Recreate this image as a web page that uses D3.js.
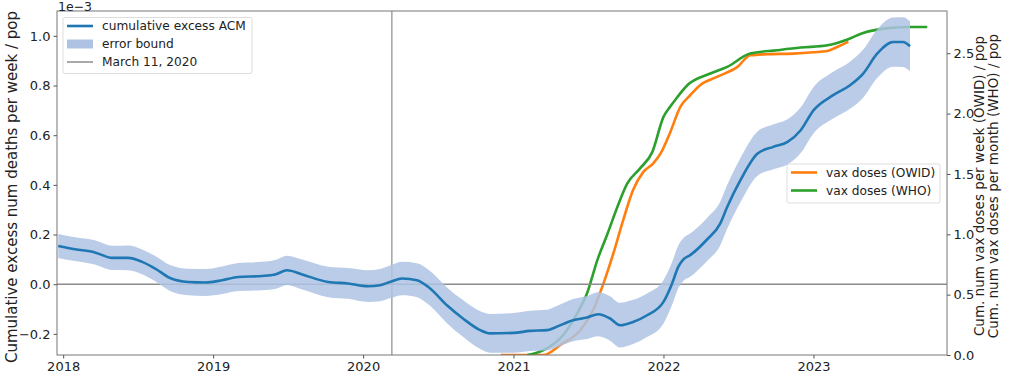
<!DOCTYPE html>
<html><head><meta charset="utf-8">
<script src="https://cdn.jsdelivr.net/npm/d3@7"></script>
<style>body{margin:0;background:#fff}svg{display:block}text{font-family:"DejaVu Sans",sans-serif}</style>
</head><body><svg id="c" width="1024" height="382"></svg>
<script>
// ---- data (left series in units of 1e-3) ----
const acmDates = ["2017-12-20","2018-01-30","2018-03-19","2018-04-30","2018-06-08","2018-07-12","2018-08-13","2018-09-18","2018-11-01","2018-12-13",
  "2019-01-23","2019-03-03","2019-04-30","2019-06-01","2019-06-30","2019-08-06","2019-10-08","2019-11-25","2020-01-13","2020-02-11",
  "2020-03-08","2020-04-05","2020-05-11","2020-06-12","2020-07-23","2020-08-31","2020-10-12","2020-11-05","2021-01-01","2021-02-10",
  "2021-03-24","2021-04-12","2021-05-26","2021-06-29","2021-07-26","2021-08-24","2021-09-17","2021-10-19","2021-11-22","2022-01-01",
  "2022-01-22","2022-02-06","2022-02-18","2022-03-07","2022-04-17","2022-05-19","2022-06-05","2022-07-07","2022-08-18","2022-09-25",
  "2022-10-30","2022-12-01","2023-01-01","2023-02-18","2023-03-31","2023-05-02","2023-06-05","2023-07-14","2023-08-07","2023-08-24"];
const acmValues = [0.154,0.141,0.128,0.106,0.106,0.090,0.063,0.025,0.009,0.007,
  0.016,0.029,0.033,0.039,0.056,0.039,0.009,0.003,-0.008,-0.004,
  0.010,0.023,0.016,-0.017,-0.085,-0.138,-0.185,-0.198,-0.196,-0.188,
  -0.185,-0.174,-0.145,-0.134,-0.121,-0.138,-0.165,-0.152,-0.125,-0.071,
  0.003,0.070,0.099,0.117,0.180,0.244,0.311,0.418,0.526,0.553,
  0.573,0.620,0.700,0.761,0.801,0.848,0.928,0.975,0.975,0.958];
const acmErr = [0.048,0.048,0.049,0.049,0.050,0.050,0.051,0.052,0.053,0.054,
  0.055,0.056,0.057,0.058,0.059,0.060,0.061,0.062,0.064,0.065,
  0.066,0.067,0.068,0.070,0.072,0.074,0.076,0.078,0.080,0.081,
  0.082,0.083,0.085,0.087,0.089,0.090,0.090,0.089,0.088,0.087,
  0.086,0.086,0.086,0.087,0.087,0.088,0.088,0.089,0.089,0.090,
  0.091,0.092,0.093,0.094,0.095,0.097,0.098,0.099,0.100,0.100];
const owidDates = ["2020-12-01","2021-03-15","2021-04-25","2021-06-13","2021-07-14","2021-08-08","2021-09-01","2021-09-25","2021-10-19","2021-11-13",
  "2021-12-07","2021-12-25","2022-01-18","2022-02-11","2022-03-07","2022-03-31","2022-05-11","2022-06-30","2022-07-31","2022-09-11",
  "2022-11-13","2023-01-01","2023-02-04","2023-02-28","2023-03-27"];
const owidValues = [0,0,0.083,0.207,0.373,0.593,0.842,1.118,1.366,1.517,
  1.587,1.670,1.850,2.056,2.152,2.235,2.304,2.387,2.483,2.492,
  2.497,2.508,2.519,2.552,2.594];
const whoDates = ["2021-02-04","2021-03-15","2021-05-02","2021-06-05","2021-06-29","2021-07-24","2021-08-18","2021-09-11","2021-10-05","2021-11-05",
  "2021-12-05","2022-01-01","2022-01-18","2022-02-04","2022-02-28","2022-04-25","2022-06-05","2022-07-31","2022-10-05","2022-12-01",
  "2023-02-04","2023-03-25","2023-05-02","2023-06-20","2023-08-18","2023-10-05"];
const whoValues = [0,0.040,0.166,0.345,0.511,0.786,1.007,1.228,1.421,1.546,
  1.683,1.973,2.060,2.138,2.235,2.332,2.387,2.497,2.525,2.547,
  2.566,2.614,2.668,2.704,2.718,2.718];
const leftTicks = [-0.2,0.0,0.2,0.4,0.6,0.8,1.0];
const rightTicks = [0.0,0.5,1.0,1.5,2.0,2.5];
const yearTicks = ["2018","2019","2020","2021","2022","2023"];
const eventDate = "2020-03-11";
const leftLegend = ["cumulative excess ACM","error bound","March 11, 2020"];
const rightLegend = ["vax doses (OWID)","vax doses (WHO)"];

// ---- layout ----
const L = 57, R = 947, T = 11, B = 355;
const parse = d3.utcParse("%Y-%m-%d");
const svg = d3.select("#c");
const x = d3.scaleUtc().domain([parse("2017-12-17"), parse("2023-11-22")]).range([L, R]);
const yL = d3.scaleLinear().domain([-0.285, 1.10]).range([B, T]);
const yR = d3.scaleLinear().domain([0, 2.85]).range([B, T]);
const C = {blue:"#1f77b4", band:"#aec3e3", orange:"#ff7f0e", green:"#2ca02c", grey:"#8c8c8c"};

svg.append("defs").append("clipPath").attr("id","clip").append("rect")
  .attr("x",L).attr("y",T).attr("width",R-L).attr("height",B-T);
const plot = svg.append("g").attr("clip-path","url(#clip)");

// vax lines (right axis)
const owid = owidDates.map((d,i)=>({d:parse(d), v:owidValues[i]}));
const who = whoDates.map((d,i)=>({d:parse(d), v:whoValues[i]}));
const lineR = d3.line().x(p=>x(p.d)).y(p=>yR(p.v)).curve(d3.curveMonotoneX);
plot.append("path").attr("d", lineR(owid)).attr("fill","none").attr("stroke",C.orange).attr("stroke-width",2.6);
plot.append("path").attr("d", lineR(who)).attr("fill","none").attr("stroke",C.green).attr("stroke-width",2.6);

// zero line + event line
plot.append("line").attr("x1",L).attr("x2",R).attr("y1",yL(0)).attr("y2",yL(0)).attr("stroke",C.grey).attr("stroke-width",1.5);
plot.append("line").attr("x1",x(parse(eventDate))).attr("x2",x(parse(eventDate))).attr("y1",T).attr("y2",B).attr("stroke",C.grey).attr("stroke-width",1.2);

// ACM band + line
const acm = acmDates.map((d,i)=>({d:parse(d), v:acmValues[i], e:acmErr[i]}));
const area = d3.area().x(p=>x(p.d)).y0(p=>yL(p.v-p.e)).y1(p=>yL(p.v+p.e)).curve(d3.curveMonotoneX);
plot.append("path").attr("d", area(acm)).attr("fill",C.band).attr("fill-opacity",0.85);
plot.append("path").attr("d", d3.line().x(p=>x(p.d)).y(p=>yL(p.v)).curve(d3.curveMonotoneX)(acm))
  .attr("fill","none").attr("stroke",C.blue).attr("stroke-width",2.6);

// frame
svg.append("rect").attr("x",L).attr("y",T).attr("width",R-L).attr("height",B-T)
  .attr("fill","none").attr("stroke","#777").attr("stroke-width",1);

// axes
const fmt = v => d3.format(".1f")(v).replace("-", "\u2212");
const axL = svg.append("g").attr("transform",`translate(${L},0)`)
  .call(d3.axisLeft(yL).tickValues(leftTicks).tickFormat(fmt).tickSize(3.5).tickPadding(3));
const axR = svg.append("g").attr("transform",`translate(${R},0)`)
  .call(d3.axisRight(yR).tickValues(rightTicks).tickFormat(fmt).tickSize(3.5).tickPadding(3));
const axB = svg.append("g").attr("transform",`translate(0,${B})`)
  .call(d3.axisBottom(x).tickValues(yearTicks.map(t=>parse(t+"-01-01"))).tickFormat((d,i)=>yearTicks[i]).tickSize(3.5).tickPadding(3));
[axL,axR,axB].forEach(a=>{
  a.select(".domain").remove();
  a.selectAll("line").attr("stroke","#555");
  a.selectAll("text").attr("fill","#222").style("font-size","13px").style("font-family","'DejaVu Sans'");
});

// labels
svg.append("text").attr("x",58).attr("y",10.5).attr("fill","#222").style("font-size","12.5px").text("1e\u22123");
svg.append("text").attr("transform",`translate(17,${(T+B)/2+4}) rotate(-90)`).attr("text-anchor","middle")
  .attr("fill","#222").style("font-size","15px").text("Cumulative excess num deaths per week / pop");
const rl = svg.append("text").attr("transform",`translate(984,${(T+B)/2+3}) rotate(-90)`).attr("text-anchor","middle")
  .attr("fill","#222").style("font-size","13.5px");
rl.append("tspan").attr("x",0).attr("dy",0).text("Cum. num vax doses per week (OWID) / pop");
rl.append("tspan").attr("x",0).attr("dy",13.5).text("Cum. num vax doses per month (WHO) / pop");

// legends
function legend(x0, y0, w, h, items) {
  const g = svg.append("g");
  g.append("rect").attr("x",x0).attr("y",y0).attr("width",w).attr("height",h).attr("rx",2)
    .attr("fill","#fff").attr("fill-opacity",0.85).attr("stroke","#ddd").attr("stroke-width",1);
  items.forEach((it,i)=>{
    const cy = y0 + 8.5 + i*18;
    if (it.type==="patch") g.append("rect").attr("x",x0+4).attr("y",cy-4.5).attr("width",26).attr("height",9).attr("fill",C.band);
    else g.append("line").attr("x1",x0+4).attr("x2",x0+30).attr("y1",cy).attr("y2",cy).attr("stroke",it.color).attr("stroke-width",it.w);
    g.append("text").attr("x",x0+39).attr("y",cy+4.3).attr("fill","#222").style("font-size","12.2px").text(it.label);
  });
}
legend(63, 17.5, 189, 56, [
  {label:leftLegend[0], color:C.blue, w:2.6},
  {label:leftLegend[1], type:"patch"},
  {label:leftLegend[2], color:C.grey, w:1.5}]);
legend(787, 164, 153, 39, [
  {label:rightLegend[0], color:C.orange, w:2.6},
  {label:rightLegend[1], color:C.green, w:2.6}]);
</script></body></html>
